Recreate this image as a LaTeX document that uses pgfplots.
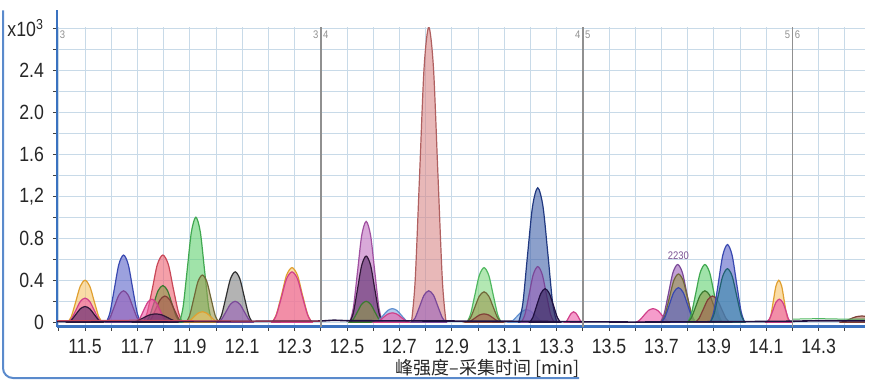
\documentclass[border=0pt]{standalone}
\usepackage{fontspec}
\setmainfont{Liberation Sans}[FakeStretch=0.86]
\newfontfamily\cjk{Noto Sans CJK SC}
\usepackage{pgfplots}
\pgfplotsset{compat=1.18}
\definecolor{fyel}{HTML}{F6C46A}\definecolor{lyel}{HTML}{E0A030}
\definecolor{fpink}{HTML}{EE5AA8}\definecolor{lpink}{HTML}{D0408A}
\definecolor{fdp}{HTML}{5A2A6A}\definecolor{ldp}{HTML}{301838}
\definecolor{fblue}{HTML}{5A62C8}\definecolor{lblue}{HTML}{3848B0}
\definecolor{fpur}{HTML}{9A60B8}\definecolor{lpur}{HTML}{7A4898}
\definecolor{fred}{HTML}{EE6070}\definecolor{lred}{HTML}{C84858}
\definecolor{fog}{HTML}{8A9A48}\definecolor{log}{HTML}{3A7A30}
\definecolor{fbrn}{HTML}{A86050}\definecolor{lbrn}{HTML}{804038}
\definecolor{fblk}{HTML}{505050}\definecolor{lblk}{HTML}{202020}
\definecolor{fgrn}{HTML}{60D070}\definecolor{lgrn}{HTML}{40A850}
\definecolor{foli}{HTML}{9A9A50}\definecolor{loli}{HTML}{706838}
\definecolor{fgry}{HTML}{808080}\definecolor{lgry}{HTML}{303030}
\definecolor{forc}{HTML}{C070C0}\definecolor{lorc}{HTML}{A050A0}
\definecolor{flb}{HTML}{80A8E0}\definecolor{llb}{HTML}{6090D0}
\definecolor{frose}{HTML}{D88888}\definecolor{lrose}{HTML}{B06060}
\definecolor{flg}{HTML}{80D880}\definecolor{llg}{HTML}{50B860}
\definecolor{fstl}{HTML}{4060A8}\definecolor{lstl}{HTML}{203880}
\definecolor{fnavy}{HTML}{302058}\definecolor{lnavy}{HTML}{201040}
\definecolor{fteal}{HTML}{3A8AA8}\definecolor{lteal}{HTML}{206070}
\definecolor{gridc}{HTML}{C8DAE8}
\definecolor{axblue}{HTML}{3A72C0}
\definecolor{frameblue}{HTML}{5A8ACC}
\definecolor{sepc}{HTML}{909090}
\pgfplotsset{pk/.style 2 args={smooth, fill=#1, draw=#2, fill opacity=0.6, draw opacity=1, line width=0.6pt, mark=none}}
\begin{document}
\begin{tikzpicture}
\begin{axis}[
  scale only axis, width=404pt, height=149.75pt,
  xmin=11.393, xmax=14.477, ymin=-0.04, ymax=2.81,
  axis lines=left, axis line style={-},
  x axis line style={draw=axblue, line width=1.5pt},
  y axis line style={draw=axblue, line width=1pt},
  xtick={11.5,11.7,11.9,12.1,12.3,12.5,12.7,12.9,13.1,13.3,13.5,13.7,13.9,14.1,14.3},
  xticklabels={11.5,11.7,11.9,12.1,12.3,12.5,12.7,12.9,13.1,13.3,13.5,13.7,13.9,14.1,14.3},
  minor xtick={11.4,11.6,11.8,12.0,12.2,12.4,12.6,12.8,13.0,13.2,13.4,13.6,13.8,14.0,14.2,14.4},
  ytick={0,0.4,0.8,1.2,1.6,2.0,2.4,2.8},
  yticklabels={0,0.4,0.8,{1,2},1.6,2.0,2.4,x10\textsuperscript{3}},
  minor ytick={0.2,0.6,1.0,1.4,1.8,2.2,2.6},
  tick align=outside, major tick length=2pt, minor tick length=2pt,
  tick style={color=black!75, line width=0.5pt},
  grid=both, grid style={draw=gridc, line width=0.5pt}, minor grid style={draw=gridc, line width=0.5pt},
  ticklabel style={font=\fontsize{10.3}{12}\selectfont, text=black!85},
  xticklabel style={yshift=-1pt},
  yticklabel style={xshift=-1pt},
  xlabel={\cjk\fontsize{9}{11}\selectfont 峰强度–采集时间 [min]},
  xlabel style={at={(rel axis cs:0.533,0)}, anchor=center, yshift=-20.75pt, text=black!85},
  clip=true,
]
% ---- group 11.4 - 12.4 ----
\addplot[pk={fyel}{lyel}] coordinates {(11.434,0) (11.448,0.056) (11.465,0.20) (11.482,0.344) (11.500,0.40) (11.518,0.344) (11.535,0.20) (11.552,0.056) (11.566,0)} \closedcycle;
\addplot[pk={fpink}{lpink}] coordinates {(11.434,0) (11.448,0.032) (11.465,0.115) (11.482,0.198) (11.500,0.23) (11.518,0.198) (11.535,0.115) (11.552,0.032) (11.566,0)} \closedcycle;
\addplot[pk={fdp}{ldp}] coordinates {(11.434,0) (11.448,0.021) (11.465,0.075) (11.482,0.129) (11.500,0.15) (11.518,0.129) (11.535,0.075) (11.552,0.021) (11.566,0)} \closedcycle;
\addplot[pk={fblue}{lblue}] coordinates {(11.581,0) (11.595,0.090) (11.612,0.32) (11.629,0.550) (11.647,0.64) (11.665,0.550) (11.682,0.32) (11.699,0.090) (11.713,0)} \closedcycle;
\addplot[pk={fpur}{lpur}] coordinates {(11.581,0) (11.595,0.042) (11.612,0.15) (11.629,0.258) (11.647,0.30) (11.665,0.258) (11.682,0.15) (11.699,0.042) (11.713,0)} \closedcycle;
\addplot[pk={fred}{lred}] coordinates {(11.721,0) (11.737,0.090) (11.757,0.32) (11.776,0.550) (11.797,0.64) (11.818,0.550) (11.837,0.32) (11.857,0.090) (11.873,0)} \closedcycle;
\addplot[pk={fog}{log}] coordinates {(11.731,0) (11.745,0.049) (11.762,0.175) (11.779,0.301) (11.797,0.35) (11.815,0.301) (11.832,0.175) (11.849,0.049) (11.863,0)} \closedcycle;
\addplot[pk={fbrn}{lbrn}] coordinates {(11.739,0) (11.753,0.035) (11.770,0.125) (11.787,0.215) (11.805,0.25) (11.823,0.215) (11.840,0.125) (11.857,0.035) (11.871,0)} \closedcycle;
\addplot[pk={fpink}{lpink}] coordinates {(11.696,0) (11.708,0.031) (11.723,0.11) (11.739,0.189) (11.755,0.22) (11.771,0.189) (11.787,0.11) (11.802,0.031) (11.814,0)} \closedcycle;
\addplot[pk={fdp}{ldp}] coordinates {(11.678,0) (11.697,0.011) (11.721,0.04) (11.745,0.069) (11.770,0.08) (11.795,0.069) (11.819,0.04) (11.843,0.011) (11.862,0)} \closedcycle;
\addplot[pk={fgrn}{lgrn}] coordinates {(11.860,0) (11.874,0.14) (11.890,0.50) (11.906,0.86) (11.923,1.00) (11.940,0.86) (11.956,0.50) (11.972,0.14) (11.986,0)} \closedcycle;
\addplot[pk={foli}{loli}] coordinates {(11.885,0) (11.899,0.063) (11.915,0.225) (11.931,0.387) (11.948,0.45) (11.965,0.387) (11.981,0.225) (11.997,0.063) (12.011,0)} \closedcycle;
\addplot[pk={fyel}{lyel}] coordinates {(11.885,0) (11.899,0.014) (11.915,0.05) (11.931,0.086) (11.948,0.10) (11.965,0.086) (11.981,0.05) (11.997,0.014) (12.011,0)} \closedcycle;
\addplot[pk={fgry}{lgry}] coordinates {(12.007,0) (12.021,0.067) (12.038,0.24) (12.055,0.413) (12.073,0.48) (12.091,0.413) (12.108,0.24) (12.125,0.067) (12.139,0)} \closedcycle;
\addplot[pk={fpur}{lpur}] coordinates {(12.007,0) (12.021,0.028) (12.038,0.10) (12.055,0.172) (12.073,0.20) (12.091,0.172) (12.108,0.10) (12.125,0.028) (12.139,0)} \closedcycle;
\addplot[pk={fyel}{lyel}] coordinates {(12.214,0) (12.230,0.073) (12.250,0.26) (12.269,0.447) (12.290,0.52) (12.311,0.447) (12.330,0.26) (12.350,0.073) (12.366,0)} \closedcycle;
\addplot[pk={fpink}{lpink}] coordinates {(12.214,0) (12.230,0.067) (12.250,0.24) (12.269,0.413) (12.290,0.48) (12.311,0.413) (12.330,0.24) (12.350,0.067) (12.366,0)} \closedcycle;
% ---- group 12.4 - 13.4 ----
\addplot[pk={forc}{lorc}] coordinates {(12.510,0) (12.524,0.134) (12.540,0.48) (12.556,0.826) (12.573,0.96) (12.590,0.826) (12.606,0.48) (12.622,0.134) (12.636,0)} \closedcycle;
\addplot[pk={fdp}{ldp}] coordinates {(12.510,0) (12.524,0.088) (12.540,0.315) (12.556,0.542) (12.573,0.63) (12.590,0.542) (12.606,0.315) (12.622,0.088) (12.636,0)} \closedcycle;
\addplot[pk={fog}{log}] coordinates {(12.510,0) (12.524,0.028) (12.540,0.10) (12.556,0.172) (12.573,0.20) (12.590,0.172) (12.606,0.10) (12.622,0.028) (12.636,0)} \closedcycle;
\addplot[pk={flb}{llb}] coordinates {(12.607,0) (12.621,0.018) (12.638,0.065) (12.655,0.112) (12.673,0.13) (12.691,0.112) (12.708,0.065) (12.725,0.018) (12.739,0)} \closedcycle;
\addplot[pk={fpink}{lpink}] coordinates {(12.607,0) (12.621,0.013) (12.638,0.045) (12.655,0.077) (12.673,0.09) (12.691,0.077) (12.708,0.045) (12.725,0.013) (12.739,0)} \closedcycle;
\addplot[pk={frose}{lrose}] coordinates {(12.746,0) (12.760,0.393) (12.777,1.405) (12.794,2.417) (12.812,2.81) (12.830,2.417) (12.847,1.405) (12.864,0.393) (12.878,0)} \closedcycle;
\addplot[pk={fpur}{lpur}] coordinates {(12.746,0) (12.760,0.042) (12.777,0.15) (12.794,0.258) (12.812,0.30) (12.830,0.258) (12.847,0.15) (12.864,0.042) (12.878,0)} \closedcycle;
\addplot[pk={flg}{llg}] coordinates {(12.957,0) (12.971,0.073) (12.988,0.26) (13.005,0.447) (13.023,0.52) (13.041,0.447) (13.058,0.26) (13.075,0.073) (13.089,0)} \closedcycle;
\addplot[pk={foli}{loli}] coordinates {(12.957,0) (12.971,0.041) (12.988,0.145) (13.005,0.249) (13.023,0.29) (13.041,0.249) (13.058,0.145) (13.075,0.041) (13.089,0)} \closedcycle;
\addplot[pk={fbrn}{lbrn}] coordinates {(12.957,0) (12.971,0.011) (12.988,0.04) (13.005,0.069) (13.023,0.08) (13.041,0.069) (13.058,0.04) (13.075,0.011) (13.089,0)} \closedcycle;
\addplot[pk={flb}{llb}] coordinates {(13.119,0) (13.133,0.017) (13.150,0.06) (13.167,0.103) (13.185,0.12) (13.203,0.103) (13.220,0.06) (13.237,0.017) (13.251,0)} \closedcycle;
\addplot[pk={fstl}{lstl}] coordinates {(13.155,0) (13.171,0.179) (13.189,0.64) (13.208,1.101) (13.228,1.28) (13.248,1.101) (13.267,0.64) (13.285,0.179) (13.301,0)} \closedcycle;
\addplot[pk={fpur}{lpur}] coordinates {(13.165,0) (13.179,0.074) (13.195,0.265) (13.211,0.456) (13.228,0.53) (13.245,0.456) (13.261,0.265) (13.277,0.074) (13.291,0)} \closedcycle;
\addplot[pk={fnavy}{lnavy}] coordinates {(13.197,0) (13.209,0.045) (13.224,0.16) (13.240,0.275) (13.256,0.32) (13.272,0.275) (13.288,0.16) (13.303,0.045) (13.315,0)} \closedcycle;
\addplot[pk={fpink}{lpink}] coordinates {(13.332,0) (13.339,0.014) (13.347,0.05) (13.356,0.086) (13.365,0.10) (13.374,0.086) (13.383,0.05) (13.391,0.014) (13.398,0)} \closedcycle;
% ---- group 13.4 - 14.48 ----
\addplot[pk={fpink}{lpink}] coordinates {(13.602,0) (13.616,0.018) (13.633,0.065) (13.650,0.112) (13.668,0.13) (13.686,0.112) (13.703,0.065) (13.720,0.018) (13.734,0)} \closedcycle;
\addplot[pk={fpur}{lpur}] coordinates {(13.696,0) (13.710,0.077) (13.727,0.275) (13.744,0.473) (13.762,0.55) (13.780,0.473) (13.797,0.275) (13.814,0.077) (13.828,0)} \closedcycle;
\addplot[pk={foli}{loli}] coordinates {(13.699,0) (13.713,0.064) (13.730,0.23) (13.747,0.396) (13.765,0.46) (13.783,0.396) (13.800,0.23) (13.817,0.064) (13.831,0)} \closedcycle;
\addplot[pk={fblue}{lblue}] coordinates {(13.699,0) (13.713,0.046) (13.730,0.165) (13.747,0.284) (13.765,0.33) (13.783,0.284) (13.800,0.165) (13.817,0.046) (13.831,0)} \closedcycle;
\addplot[pk={fgrn}{lgrn}] coordinates {(13.800,0) (13.814,0.077) (13.831,0.275) (13.848,0.473) (13.866,0.55) (13.884,0.473) (13.901,0.275) (13.918,0.077) (13.932,0)} \closedcycle;
\addplot[pk={fog}{log}] coordinates {(13.800,0) (13.814,0.042) (13.831,0.15) (13.848,0.258) (13.866,0.30) (13.884,0.258) (13.901,0.15) (13.918,0.042) (13.932,0)} \closedcycle;
\addplot[pk={fbrn}{lbrn}] coordinates {(13.829,0) (13.843,0.035) (13.860,0.125) (13.877,0.215) (13.895,0.25) (13.913,0.215) (13.930,0.125) (13.947,0.035) (13.961,0)} \closedcycle;
\addplot[pk={fblue}{lblue}] coordinates {(13.886,0) (13.900,0.104) (13.917,0.37) (13.934,0.636) (13.952,0.74) (13.970,0.636) (13.987,0.37) (14.004,0.104) (14.018,0)} \closedcycle;
\addplot[pk={fteal}{lteal}] coordinates {(13.886,0) (13.900,0.071) (13.917,0.255) (13.934,0.439) (13.952,0.51) (13.970,0.439) (13.987,0.255) (14.004,0.071) (14.018,0)} \closedcycle;
\addplot[pk={fyel}{lyel}] coordinates {(14.108,0) (14.117,0.056) (14.127,0.20) (14.137,0.344) (14.148,0.40) (14.159,0.344) (14.169,0.20) (14.179,0.056) (14.188,0)} \closedcycle;
\addplot[pk={fpink}{lpink}] coordinates {(14.100,0) (14.112,0.031) (14.125,0.11) (14.137,0.189) (14.150,0.22) (14.163,0.189) (14.175,0.11) (14.185,0.031) (14.195,0)} \closedcycle;
\addplot[pk={fbrn}{lbrn}] coordinates {(14.379,0) (14.397,0.008) (14.419,0.03) (14.442,0.052) (14.465,0.06) (14.488,0.052) (14.511,0.03) (14.533,0.008) (14.551,0)} \closedcycle;
% ---- baseline traces ----
\addplot[draw=lnavy, line width=0.8pt, mark=none] coordinates {(11.393,0.008) (11.6,0.006) (12.0,0.008) (12.4,0.012) (12.45,0.02) (12.5,0.015) (12.9,0.012) (13.1,0.01) (13.45,0.004) (13.6,0.002) (14.0,0.006) (14.2,0.01) (14.3,0.015) (14.477,0.015)};
\addplot[draw=lred, line width=0.5pt, mark=none] coordinates {(11.393,0.015) (11.7,0.02) (11.9,0.015) (12.2,0.01) (12.4,0.01)};
\addplot[draw=llg, line width=0.5pt, mark=none] coordinates {(14.2,0.03) (14.3,0.035) (14.4,0.03) (14.477,0.03)};
% ---- separators and labels ----
\draw[sepc, line width=0.7pt] (axis cs:12.40,-0.04) -- (axis cs:12.40,2.81);
\draw[sepc, line width=0.7pt] (axis cs:13.40,-0.04) -- (axis cs:13.40,2.81);
\draw[sepc, line width=0.7pt] (axis cs:14.20,-0.04) -- (axis cs:14.20,2.81);
\node[anchor=west, font=\fontsize{5.5}{6}\selectfont, text=sepc, inner sep=1pt] at (axis cs:11.395,2.74) {3};
\node[anchor=east, font=\fontsize{5.5}{6}\selectfont, text=sepc, inner sep=1pt] at (axis cs:12.40,2.74) {3};
\node[anchor=west, font=\fontsize{5.5}{6}\selectfont, text=sepc, inner sep=1pt] at (axis cs:12.40,2.74) {4};
\node[anchor=east, font=\fontsize{5.5}{6}\selectfont, text=sepc, inner sep=1pt] at (axis cs:13.40,2.74) {4};
\node[anchor=west, font=\fontsize{5.5}{6}\selectfont, text=sepc, inner sep=1pt] at (axis cs:13.40,2.74) {5};
\node[anchor=east, font=\fontsize{5.5}{6}\selectfont, text=sepc, inner sep=1pt] at (axis cs:14.20,2.74) {5};
\node[anchor=west, font=\fontsize{5.5}{6}\selectfont, text=sepc, inner sep=1pt] at (axis cs:14.20,2.74) {6};
\node[anchor=south, font=\fontsize{5.5}{6}\selectfont, text=lpur!80!gray, inner sep=1pt] at (axis cs:13.765,0.57) {2230};
\end{axis}
\draw[axblue, line width=1pt] (0,149.75pt) -- (0,158pt);
\draw[frameblue, line width=1pt, rounded corners=5pt] (-27pt,158pt) -- (-27pt,-25.75pt) -- (261pt,-25.75pt);
\pgfresetboundingbox
\useasboundingbox (-28.5pt,-27.25pt) rectangle (406pt,163.25pt);
\end{tikzpicture}
\end{document}
